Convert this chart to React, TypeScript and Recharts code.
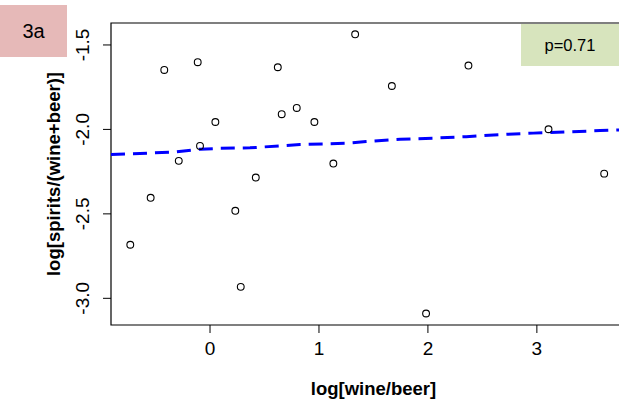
import React from "react"
import {
  ComposedChart,
  Scatter,
  Line,
  XAxis,
  YAxis,
  ReferenceArea,
} from "recharts"

// observations: log[wine/beer] vs log[spirits/(wine+beer)]
const wineBeer = [
  -0.732, -0.545, -0.42, -0.287, -0.113, -0.092, 0.049, 0.232, 0.282, 0.42, 0.622,
  0.658, 0.796, 0.958, 1.132, 1.332, 1.669, 1.983, 2.372, 3.107, 3.618,
]
const spiritsShare = [
  -2.683, -2.405, -1.648, -2.186, -1.602, -2.098, -1.956, -2.482, -2.932, -2.285, -1.632,
  -1.91, -1.873, -1.956, -2.202, -1.437, -1.743, -3.09, -1.622, -1.999, -2.262,
]

// smoothed fit (dashed blue)
const fitX = [
  -0.909, -0.352, -0.092, 0.092, 0.367, 0.826, 1.24, 1.433, 1.745, 2.048, 2.351, 2.663,
  2.966, 3.269, 3.581, 3.756, 3.91,
]
const fitY = [
  -2.149, -2.135, -2.117, -2.112, -2.109, -2.09, -2.082, -2.072, -2.058, -2.052, -2.043,
  -2.031, -2.022, -2.015, -2.007, -2.003, -1.999,
]

const xTicks = [0, 1, 2, 3]
const yTicks = [-3, -2.5, -2, -1.5]
const xDomain: [number, number] = [-0.909, 3.91]
const yDomain: [number, number] = [-3.158, -1.37]

const points = wineBeer.map((x, i) => ({ x, y: spiritsShare[i] }))
const fit = fitX.map((x, i) => ({ x, y: fitY[i] }))

const FONT = "'Liberation Sans', Arial, Helvetica, sans-serif"

function XTick({ x, y, payload }: any) {
  return (
    <text x={x} y={y + 22} textAnchor="middle" fontSize={19} fontFamily={FONT} fill="#000">
      {payload.value}
    </text>
  )
}

function YTick({ x, y, payload }: any) {
  const tx = x - 13.5
  return (
    <text
      x={tx}
      y={y}
      textAnchor="middle"
      fontSize={19}
      fontFamily={FONT}
      fill="#000"
      transform={`rotate(-90, ${tx}, ${y})`}
    >
      {Number(payload.value).toFixed(1)}
    </text>
  )
}

function OpenCircle({ cx, cy }: any) {
  return <circle cx={cx} cy={cy} r={3.4} fill="none" stroke="#000" strokeWidth={1.1} />
}

export default function App() {
  return (
    <div
      style={{
        position: "absolute",
        left: 0,
        top: 0,
        width: 619,
        height: 410,
        overflow: "hidden",
        background: "#fff",
      }}
    >
      <ComposedChart
        width={640}
        height={410}
        margin={{ top: 23, right: 4, bottom: 0, left: 0 }}
      >
        <XAxis
          type="number"
          dataKey="x"
          domain={xDomain}
          ticks={xTicks}
          allowDataOverflow
          height={85}
          tickSize={8}
          tickMargin={0}
          tickLine={{ stroke: "#000" }}
          axisLine={false}
          tick={<XTick />}
          label={{
            value: "log[wine/beer]",
            position: "insideBottom",
            offset: 15,
            fontSize: 18.5,
            fontWeight: "bold",
            fontFamily: FONT,
            fill: "#000",
          }}
        />
        <YAxis
          type="number"
          dataKey="y"
          domain={yDomain}
          ticks={yTicks}
          allowDataOverflow
          width={111}
          tickSize={8}
          tickMargin={0}
          tickLine={{ stroke: "#000" }}
          axisLine={false}
          tick={<YTick />}
          label={{
            value: "log[spirits/(wine+beer)]",
            angle: -90,
            position: "insideLeft",
            offset: 53,
            style: { textAnchor: "middle" },
            fontSize: 18.5,
            fontWeight: "bold",
            fontFamily: FONT,
            fill: "#000",
          }}
        />
        <ReferenceArea
          x1={xDomain[0]}
          x2={xDomain[1]}
          y1={yDomain[0]}
          y2={yDomain[1]}
          fill="none"
          stroke="#000"
          strokeWidth={1.2}
        />
        <Line
          data={fit}
          dataKey="y"
          type="linear"
          stroke="#0000ff"
          strokeWidth={3}
          strokeDasharray="14 8"
          dot={false}
          activeDot={false}
          isAnimationActive={false}
        />
        <Scatter data={points} dataKey="y" shape={<OpenCircle />} isAnimationActive={false} />
      </ComposedChart>
      <div
        style={{
          position: "absolute",
          left: 0,
          top: 5,
          width: 67,
          height: 52,
          background: "#e6b9b8",
          display: "flex",
          alignItems: "center",
          justifyContent: "center",
          fontFamily: FONT,
          fontSize: 20,
          color: "#000",
        }}
      >
        3a
      </div>
      <div
        style={{
          position: "absolute",
          left: 521,
          top: 24,
          width: 98,
          height: 42,
          background: "#d7e4bd",
          display: "flex",
          alignItems: "center",
          justifyContent: "center",
          fontFamily: FONT,
          fontSize: 16.5,
          color: "#000",
        }}
      >
        p=0.71
      </div>
    </div>
  )
}
